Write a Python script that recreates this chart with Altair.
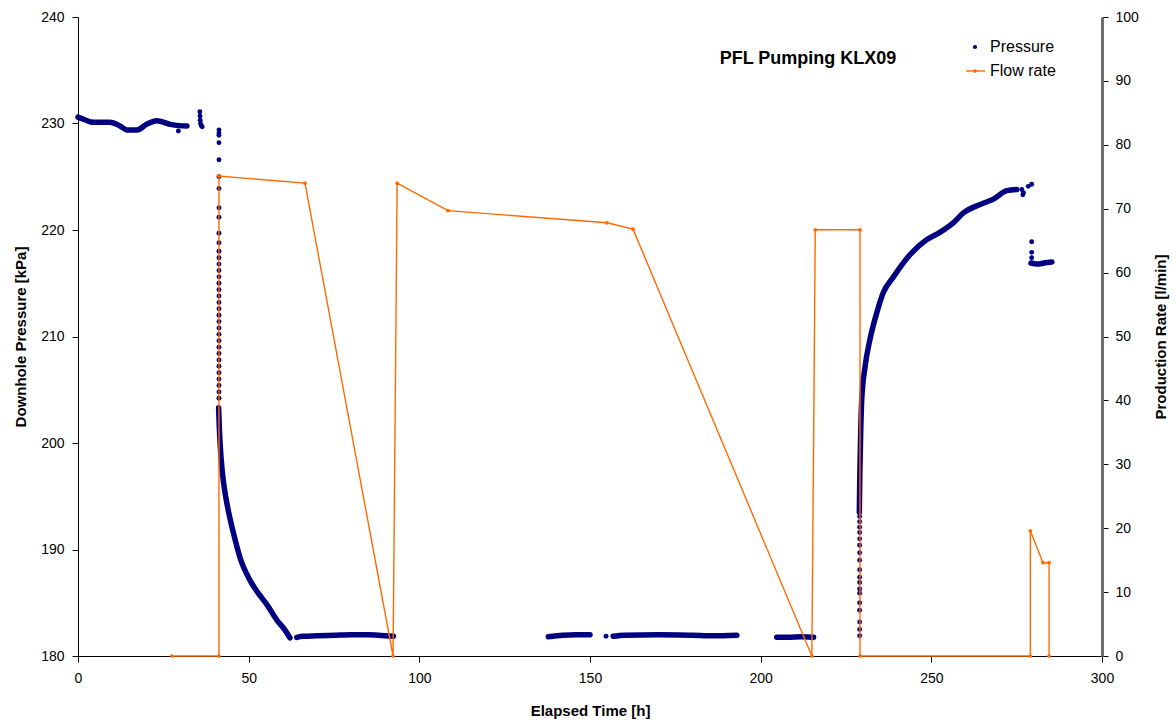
import altair as alt
import pandas as pd

FONT = "Liberation Sans"
NAVY = "#000080"
ORANGE = "#FF6A00"

# ---- Pressure: continuous stretches ----
seg_a_t = [0, 2, 4.4, 9.4, 12.3, 14.3, 17.3, 20.2, 23.1, 27.0, 29.5, 31.9]
seg_a_p = [230.6, 230.35, 230.11, 230.11, 229.77, 229.4, 229.39, 229.95, 230.26, 229.92, 229.8, 229.77]
seg_b_t = [41.2, 41.4, 41.7, 42.1, 42.6, 43.3, 44.2, 45.5, 47.5, 50.4, 52.8, 55.3, 58.2, 60.5, 62.1]
seg_b_p = [203.3, 201.5, 199.6, 197.9, 196.4, 194.9, 193.4, 191.6, 189.2, 187.1, 185.9, 184.85, 183.4, 182.5, 181.7]
seg_c_t = [64.1, 66, 70, 75, 80, 85, 88, 92.4]
seg_c_p = [181.75, 181.85, 181.9, 181.95, 182.0, 182.0, 181.95, 181.85]
seg_d_t = [137.8, 142, 146, 150]
seg_d_p = [181.8, 181.95, 182.0, 182.0]
seg_e_t = [156.8, 160, 170, 180, 186, 193.0]
seg_e_p = [181.85, 181.95, 182.0, 181.95, 181.9, 181.95]
seg_f_t = [204.7, 208, 212, 215.5]
seg_f_p = [181.75, 181.75, 181.8, 181.75]
seg_g_t = [228.9, 229.05, 229.3, 229.6, 230.6, 232.0, 234.0, 235.9, 238.9, 243.8, 248.7,
           252.6, 256.5, 259.4, 264.3, 268.2, 272.1, 275.0]
seg_g_p = [193.5, 197.0, 200.9, 204.0, 207.2, 209.7, 212.2, 214.1, 215.6, 217.7, 219.1,
           219.8, 220.7, 221.6, 222.4, 222.9, 223.7, 223.8]
seg_h_t = [279.2, 281, 283, 285.3]
seg_h_p = [216.9, 216.8, 216.9, 217.0]

# ---- Pressure: scattered single readings ----
dots_t = ([29.4] + [35.7, 35.75, 35.8, 35.9, 36.1, 36.4]
          + [41.3] * 35 + [154.7] + [229.0] * 18
          + [276.5, 277.0, 276.8, 278.4, 279.4, 279.4, 279.4, 279.4])
dots_p = ([229.3] + [231.1, 230.7, 230.3, 230.0, 229.8, 229.7]
          + [229.4, 229.1, 228.9, 228.2, 226.6, 225.0, 223.9, 222.1, 221.2, 219.7, 218.8,
             218.0, 217.4, 216.8, 216.2, 215.6, 215.0, 214.4, 213.8, 213.2, 212.6, 212.0,
             211.4, 210.8, 210.2, 209.6, 209.0, 208.4, 207.8, 207.2, 206.6, 206.0, 205.4,
             204.8, 204.2]
          + [181.85]
          + [181.9, 182.5, 183.2, 184.3, 185.0, 185.9, 186.3, 186.9, 187.4, 188.1, 189.0,
             189.7, 190.4, 191.0, 191.6, 192.1, 192.6, 193.1]
          + [223.8, 223.5, 223.3, 224.1, 224.3, 218.9, 217.9, 217.4])

# ---- Flow rate ----
flow_t = [27.5, 41.3, 41.3, 66.5, 92.3, 93.5, 108.4, 155.0, 162.6, 215.0, 216.0,
          229.1, 229.1, 279.0, 279.0, 282.7, 284.5, 284.5]
flow_q = [0, 0, 75.1, 74.0, 0, 74.0, 69.7, 67.8, 66.8, 0, 66.7,
          66.7, 0, 0, 19.6, 14.6, 14.6, 0]

segs = {"a": (seg_a_t, seg_a_p), "b": (seg_b_t, seg_b_p), "c": (seg_c_t, seg_c_p),
        "d": (seg_d_t, seg_d_p), "e": (seg_e_t, seg_e_p), "f": (seg_f_t, seg_f_p),
        "g": (seg_g_t, seg_g_p), "h": (seg_h_t, seg_h_p)}
rows = []
for name, (ts, ps) in segs.items():
    for t, p in zip(ts, ps):
        rows.append({"t": t, "p": p, "seg": name})
line_df = pd.DataFrame(rows)
dot_df = pd.DataFrame({"t": dots_t, "p": dots_p})
flow_df = pd.DataFrame({"t": flow_t, "q": flow_q, "i": list(range(len(flow_t)))})

x_enc = alt.X("t:Q", scale=alt.Scale(domain=[0, 300], nice=False),
              axis=alt.Axis(values=[0, 50, 100, 150, 200, 250, 300], title="Elapsed Time [h]",
                            grid=False, tickSize=6, labelPadding=9, labelFontSize=14,
                            labelFlush=False, labelOverlap=False,
                            labelFont=FONT, labelColor="#000", domainColor="#000",
                            tickColor="#000", titleFont=FONT, titleFontSize=15,
                            titleFontWeight="bold", titleColor="#000",
                            titleY=54, titleBaseline="middle"))

p_scale = alt.Scale(domain=[180, 240], nice=False, zero=False)
p_axis = alt.Axis(orient="left", values=[180, 190, 200, 210, 220, 230, 240],
                  title="Downhole Pressure [kPa]", grid=False, tickSize=6, labelPadding=8,
                  labelFlush=False, labelOverlap=False,
                  labelFontSize=14, labelFont=FONT, labelColor="#000", domainColor="#000",
                  tickColor="#000", titleFont=FONT, titleFontSize=15, titleFontWeight="bold",
                  titleColor="#000", titleX=-58, titleY=319.5, titleBaseline="middle",
                  titleAlign="center", titleAngle=270)

p_line = alt.Chart(line_df).mark_line(color=NAVY, strokeWidth=5.5, strokeCap="round",
                                      strokeJoin="round", interpolate="monotone").encode(
    x=x_enc, y=alt.Y("p:Q", scale=p_scale, axis=p_axis), detail="seg:N", order="t:Q")
p_dots = alt.Chart(dot_df).mark_circle(color=NAVY, size=24, opacity=1).encode(
    x=alt.X("t:Q"), y=alt.Y("p:Q"))
pressure = alt.layer(p_line, p_dots)

q_axis = alt.Axis(orient="right", values=[0, 10, 20, 30, 40, 50, 60, 70, 80, 90, 100],
                  title="Production Rate [l/min]", grid=False, tickSize=6, labelPadding=7,
                  labelFlush=False, labelOverlap=False,
                  labelFontSize=14, labelFont=FONT, labelColor="#000", domainColor="#6e6e6e",
                  domainWidth=3, tickColor="#000", titleFont=FONT, titleFontSize=15,
                  titleFontWeight="bold", titleColor="#000", titleX=58, titleY=319.5,
                  titleBaseline="middle", titleAlign="center", titleAngle=270)
flow = alt.Chart(flow_df).mark_line(color=ORANGE, strokeWidth=1.4,
                                    point=alt.OverlayMarkDef(color=ORANGE, size=14, filled=True)).encode(
    x=alt.X("t:Q"),
    y=alt.Y("q:Q", scale=alt.Scale(domain=[0, 100], nice=False), axis=q_axis),
    order="i:Q")

# ---- in-plot title and legend ----
one = pd.DataFrame({"k": [0]})
title_txt = alt.Chart(one).mark_text(text="PFL Pumping KLX09", font=FONT, fontSize=18,
                                     fontWeight="bold", align="center", baseline="middle",
                                     color="#000").encode(x=alt.value(730), y=alt.value(42))
leg_dot = alt.Chart(one).mark_circle(color=NAVY, size=18, opacity=1).encode(
    x=alt.value(897), y=alt.value(30))
leg_line = alt.Chart(one).mark_rule(color=ORANGE, strokeWidth=1.4).encode(
    x=alt.value(888), x2=alt.value(907), y=alt.value(54))
leg_pt = alt.Chart(one).mark_circle(color=ORANGE, size=14, opacity=1).encode(
    x=alt.value(897), y=alt.value(54))
leg_t1 = alt.Chart(one).mark_text(text="Pressure", font=FONT, fontSize=16, align="left",
                                  baseline="middle", color="#000").encode(
    x=alt.value(912), y=alt.value(30))
leg_t2 = alt.Chart(one).mark_text(text="Flow rate", font=FONT, fontSize=16, align="left",
                                  baseline="middle", color="#000").encode(
    x=alt.value(912), y=alt.value(54))

chart = alt.layer(pressure, flow, title_txt, leg_dot, leg_line, leg_pt, leg_t1, leg_t2).resolve_scale(
    y="independent"
).properties(
    width=1024, height=639,
    autosize=alt.AutoSizeParams(type="none"),
    padding={"left": 78, "top": 17, "right": 74, "bottom": 71},
    background="white",
).configure_view(stroke=None)

chart.save("out.html", embed_options={"renderer": "svg", "actions": False})
